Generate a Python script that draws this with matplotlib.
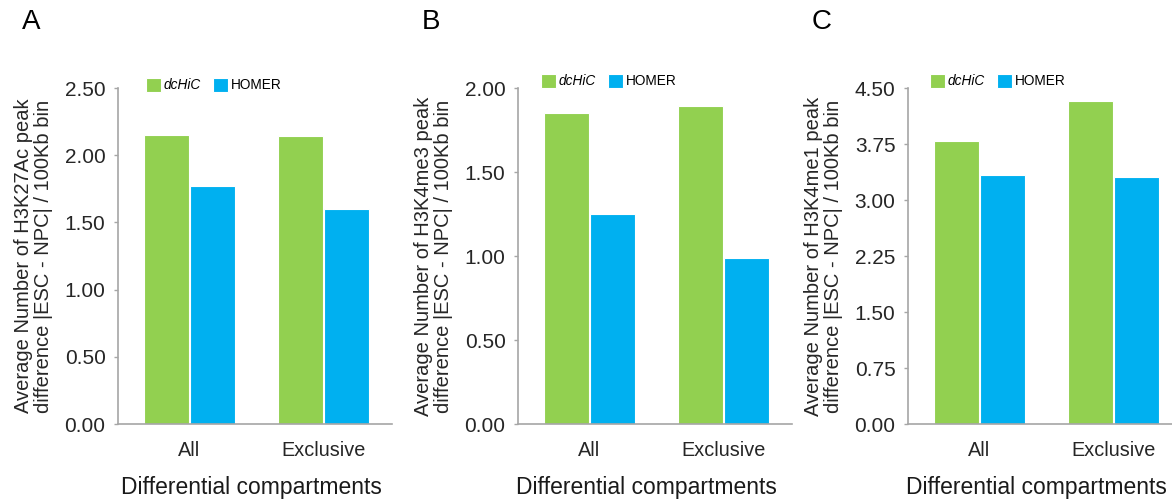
import numpy as np
import matplotlib
matplotlib.use('Agg')
import matplotlib.pyplot as plt

categories = ['All', 'Exclusive']
methods = ['dcHiC', 'HOMER']

h3k27ac_dchic = [2.15, 2.14]
h3k27ac_homer = [1.77, 1.60]
h3k4me3_dchic = [1.85, 1.89]
h3k4me3_homer = [1.25, 0.99]
h3k4me1_dchic = [3.79, 4.33]
h3k4me1_homer = [3.33, 3.31]

panels = [
    ('A', 'H3K27Ac', h3k27ac_dchic, h3k27ac_homer, [0, 0.5, 1.0, 1.5, 2.0, 2.5]),
    ('B', 'H3K4me3', h3k4me3_dchic, h3k4me3_homer, [0, 0.5, 1.0, 1.5, 2.0]),
    ('C', 'H3K4me1', h3k4me1_dchic, h3k4me1_homer, [0, 0.75, 1.5, 2.25, 3.0, 3.75, 4.5]),
]

green = '#92D050'
blue = '#00B0F0'
axis_col = '#A6A6A6'

plt.rcParams['font.family'] = ['Liberation Sans', 'DejaVu Sans']

fig = plt.figure(figsize=(11.72, 4.99), dpi=100)
lefts = [118, 518, 908]
leg_x = [0.102, 0.084, 0.08]
leg_y = [1.008, 1.02, 1.02]
xlab_x = [0.487, 0.469, 0.469]

x = np.arange(len(categories))
w = 0.335

for i, (letter, mark, dchic, homer, ticks) in enumerate(panels):
    ax = fig.add_axes([lefts[i] / 1172, 1 - 424 / 499, 274 / 1172, 336 / 499])
    ax.bar(x - w / 2 - 0.005, dchic, w, color=green, edgecolor='white', linewidth=0.8, label=methods[0])
    ax.bar(x + w / 2 + 0.005, homer, w, color=blue, edgecolor='white', linewidth=0.8, label=methods[1])
    ax.set_xlim(-0.53, 1.51)
    ax.set_ylim(0, ticks[-1])
    ax.set_yticks(ticks)
    ax.set_yticklabels(['%.2f' % t for t in ticks], fontsize=15, color='#262626')
    ax.set_xticks(x)
    ax.set_xticklabels(categories, fontsize=14.3, color='#262626')
    ax.tick_params(axis='x', length=0, pad=12)
    ax.tick_params(axis='y', length=3, width=1, color=axis_col, pad=6)
    for s in ['top', 'right']:
        ax.spines[s].set_visible(False)
    for s in ['left', 'bottom']:
        ax.spines[s].set_color(axis_col)
        ax.spines[s].set_linewidth(1.2)
    ax.set_ylabel('Average Number of %s peak\ndifference |ESC - NPC| / 100Kb bin' % mark,
                  fontsize=14.5, color='#262626', linespacing=1.1, labelpad=8)
    ax.set_xlabel('Differential compartments', fontsize=16.5, color='#1a1a1a', labelpad=9)
    ax.xaxis.set_label_coords(xlab_x[i], -0.155)
    leg = ax.legend(loc='center left', bbox_to_anchor=(leg_x[i], leg_y[i]), ncol=2, frameon=False,
                    fontsize=9.8, handlelength=1.1, handleheight=1.15, handletextpad=0.2,
                    columnspacing=0.9, borderpad=0, borderaxespad=0)
    leg.get_texts()[0].set_style('italic')
    fig.text((lefts[i] - 96) / 1172, 1 - 22 / 499, letter, fontsize=20, va='center', ha='left')

fig.savefig('out.png', dpi=100)
